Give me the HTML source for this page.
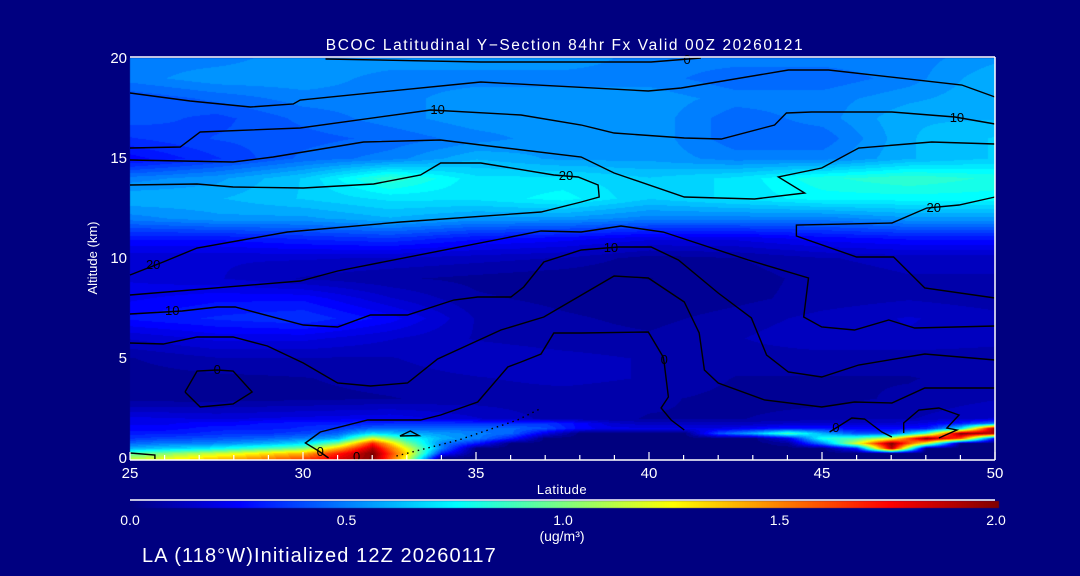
<!DOCTYPE html>
<html><head><meta charset="utf-8">
<style>
html,body{margin:0;padding:0;background:#000080;}
#wrap{position:relative;width:1080px;height:576px;overflow:hidden;background:#000080;font-family:"Liberation Sans",sans-serif;color:#fff;}
canvas{position:absolute;left:0;top:0;}
svg{position:absolute;left:0;top:0;}
</style></head>
<body>
<div id="wrap">
<canvas id="heat" width="1080" height="576"></canvas>
<svg id="ov" width="1080" height="576"></svg>
</div>
<script>
// ---- data ----
const latsUpper = [25,27.5,30,32.5,35,37.5,40,42.5,45,47.5,50];
const altsUpper = [2,3,4,5,6,7,8,9,10,11,12,13,14,15,16,17,18,19,20];
const valsUpper = [
[.2,.18,.2,.22,.15,.08,.06,.06,.08,.1,.15],
[.04,.04,.05,.06,.08,.08,.07,.05,.05,.07,.1],
[.04,.05,.06,.08,.1,.12,.1,.06,.06,.06,.08],
[.06,.1,.1,.1,.14,.12,.1,.08,.08,.08,.08],
[.15,.2,.2,.15,.1,.08,.07,.1,.14,.14,.12],
[.28,.32,.35,.25,.1,.07,.05,.08,.12,.15,.12],
[.22,.26,.26,.15,.07,.05,.03,.05,.08,.1,.08],
[.18,.15,.1,.07,.05,.03,.02,.04,.08,.1,.1],
[.15,.15,.15,.14,.12,.1,.04,.06,.1,.12,.12],
[.28,.28,.32,.35,.28,.25,.2,.2,.25,.28,.28],
[.5,.55,.55,.6,.55,.55,.5,.5,.5,.55,.55],
[.6,.6,.65,.7,.7,.75,.65,.7,.75,.75,.75],
[.5,.55,.65,.85,.7,.7,.65,.7,.8,.85,.8],
[.25,.35,.45,.5,.6,.55,.55,.5,.5,.6,.65],
[.35,.4,.42,.45,.5,.55,.55,.45,.45,.6,.65],
[.42,.38,.45,.5,.55,.55,.55,.45,.5,.6,.6],
[.4,.45,.5,.5,.55,.55,.55,.5,.5,.55,.6],
[.5,.55,.55,.5,.5,.5,.5,.45,.45,.5,.6],
[.5,.5,.55,.55,.55,.55,.5,.5,.5,.5,.55]
];
const latsLower = [25,26,27,28,29,30,31,32,33,34,35,36,37,38,39,40,41,42,43,44,45,46,47,48,49,50];
const altsLower = [0,0.25,0.5,0.75,1,1.25,1.5,1.75,2];
const valsLower = [
[1.1,1.2,1.3,1.4,1.5,1.6,1.8,2.0,1.2,0,0,0,0,0,0,0,0,0,0,0,0,0,0,0,0,0],
[.9,1.0,1.1,1.2,1.3,1.4,1.7,2.0,1.3,.3,0,0,0,0,0,0,0,0,0,0,0,0,0,0,0,0],
[.6,.65,.7,.8,.9,1.0,1.4,1.9,1.2,.5,0,0,0,0,0,0,0,0,0,0,0,.3,1.9,0,0,0],
[.45,.5,.5,.55,.6,.7,1.0,1.7,1.0,.5,.3,0,0,0,0,0,0,0,0,.05,.5,1.2,2.0,1.2,0,0],
[.35,.38,.4,.42,.45,.5,.6,1.2,.8,.6,.5,.3,0,0,0,0,0,0,0,.2,.8,.9,1.2,2.0,1.6,.2],
[.3,.3,.32,.35,.35,.38,.45,.7,.6,.55,.5,.45,.2,0,0,0,0,.4,.6,.9,.6,.4,.4,.9,2.0,1.9],
[.25,.25,.28,.3,.3,.32,.35,.45,.45,.45,.45,.45,.4,.25,.2,.2,.2,.2,.25,.3,.3,.25,.25,.3,.7,2.0],
[.22,.22,.25,.25,.28,.3,.3,.32,.35,.35,.35,.35,.35,.25,.15,.12,.12,.12,.12,.15,.15,.15,.15,.2,.3,.5],
[.2,.19,.18,.19,.2,.2,.21,.22,.2,.17,.15,.12,.09,.07,.06,.06,.06,.06,.07,.07,.08,.09,.1,.12,.13,.15]
];
// contour lines: [lat, alt] pairs
const contourTop = [[30.65,19.95],[35.14,19.8],[40.06,19.8],[41.5,20.0]];
const contourB = [[25,18.25],[26.74,17.85],[28.48,17.55],[29.72,17.7],[29.92,17.9],[35.14,18.8],[39.98,18.35],[40.93,18.5],[44.03,19.4],[45.19,19.4],[49.04,18.65],[50,18.05]];
const contourC = [[25,15.5],[26.45,15.55],[27.03,16.3],[29.92,16.5],[33.69,17.4],[36.3,17.15],[38.04,16.65],[38.99,16.25],[41.02,16.0],[42.09,15.95],[43.63,16.65],[43.97,17.25],[44.7,17.3],[47.02,17.3],[48.84,17.05],[50,16.7]];
const contourD = [[25,14.9],[27.98,14.8],[29.14,15.05],[31.75,15.8],[33.98,15.9],[35.14,15.65],[38.04,15.05],[38.99,14.25],[41.02,13.05],[43.05,12.95],[44.5,13.25],[43.74,14.05],[44.99,14.5],[46.06,15.5],[48.17,15.8],[50,15.7]];
const contour20a = [[25,9.15],[25.96,9.8],[26.94,10.5],[29.55,11.3],[32.82,11.8],[36.88,12.3],[38.04,12.8],[38.56,13.05],[38.53,13.65],[37.95,14.05],[37.25,14.15],[35.14,14.75],[33.98,14.75],[33.4,14.15],[32.04,13.7],[30.01,13.5],[27.98,13.55],[26.94,13.7],[25,13.65]];
const contour20b = [[50,13.05],[48.96,12.65],[48.03,12.5],[47.02,11.75],[44.26,11.65],[44.26,11.1],[46.0,10.05],[47.07,10.05],[47.97,8.5],[50,8.0]];
const contour10a = [[25,8.15],[29.92,8.85],[31.0,9.35],[36.88,11.35],[38.04,11.3],[39.19,11.6],[40.41,11.3],[42.87,9.9],[44.61,9.0],[44.47,7.05],[44.99,6.55],[45.94,6.4],[46.93,6.9],[47.68,6.5],[50,6.6]];
const contour10b = [[25,7.2],[26.51,7.35],[27.52,7.55],[28.04,7.55],[30.01,6.65],[31.0,6.55],[31.95,7.15],[33.02,7.15],[34.36,7.9],[35.05,8.05],[36.01,8.05],[36.38,8.55],[36.96,9.8],[38.04,10.4],[39.11,10.55],[40.06,10.55],[40.85,9.9],[42.0,8.25],[42.96,7.0],[43.4,5.15],[44.03,4.3],[44.99,4.05],[46.06,4.65],[47.97,5.2],[50,4.9]];
const contour10c = [[25,5.75],[25.96,5.7],[26.94,6.05],[27.98,6.05],[28.97,5.6],[30.01,4.75],[31.0,3.75],[31.95,3.6],[33.02,3.75],[33.89,4.95],[35.72,6.4],[36.96,7.05],[38.99,9.1],[39.98,9.0],[41.02,7.8],[41.45,6.25],[41.6,4.4],[42.0,3.75],[43.34,2.9],[44.99,2.55],[45.94,2.8],[47.02,2.75],[47.97,3.5],[50,3.5]];
const contour0b = [[30.74,0.0],[30.45,0.35],[30.07,0.75],[30.5,1.3],[31.87,1.9],[33.4,1.9],[33.98,2.15],[35.05,2.8],[35.92,4.55],[36.3,4.8],[36.88,5.2],[37.25,6.25],[38.04,6.25],[39.98,6.3],[40.41,5.05],[40.44,4.75],[40.56,3.05],[40.35,2.5],[40.64,1.9],[41.02,1.4]];
const contour0c = [[26.59,3.3],[26.94,4.35],[27.52,4.4],[27.98,4.35],[28.53,3.3],[27.98,2.7],[27.03,2.55],[26.59,3.3]];
const contour0d = [[45.22,1.3],[45.86,2.0],[46.23,1.95],[46.73,1.3],[47.02,1.05]];
const contour0e = [[47.36,1.25],[47.36,1.75],[47.8,2.4],[48.38,2.5],[48.96,2.15],[48.61,1.5],[48.9,1.4],[48.38,1.0]];
const contour0f = [[25,0.25],[25.72,0.15],[25.72,-0.05]];
const contourTri = [[32.8,1.1],[33.1,1.35],[33.35,1.12],[32.8,1.1]];
const contourDot = [[32.7,0.1],[34.5,0.9],[36.2,1.9],[36.9,2.5]];
const contourLabels = [["0",41.1,19.9],["10",33.89,17.4],["10",48.9,17.0],["20",37.6,14.1],["20",48.23,12.5],["20",25.67,9.65],["10",38.9,10.5],["10",26.22,7.35],["0",40.44,4.9],["0",27.52,4.4],["0",30.5,0.3],["0",31.55,0.05],["0",45.4,1.5]];
const xTicks = [25,30,35,40,45,50];
const yTicks = [0,5,10,15,20];
const cbTicks = ["0.0","0.5","1.0","1.5","2.0"];

// ---- geometry ----
const X0=130, X1=995, Y0=458, Y1=58;
const LAT0=25, LAT1=50, ALT0=0, ALT1=20, VMAX=2;
function xs(lat){return X0+(lat-LAT0)/(LAT1-LAT0)*(X1-X0);}
function ys(alt){return Y0-(alt-ALT0)/(ALT1-ALT0)*(Y0-Y1);}
function jet(t){
  t=Math.max(0,Math.min(1,t));
  function f(x){return Math.max(0,Math.min(1,x));}
  const r=f(Math.min(4*t-1.5,-4*t+4.5));
  const g=f(Math.min(4*t-0.5,-4*t+3.5));
  const b=f(Math.min(4*t+0.5,-4*t+2.5));
  return [r*255|0,g*255|0,b*255|0];
}
function idx(arr,v){
  if(v<=arr[0])return [0,0];
  for(let i=0;i<arr.length-1;i++){if(v<=arr[i+1])return [i,(v-arr[i])/(arr[i+1]-arr[i])];}
  return [arr.length-2,1];
}
function interp(lats,alts,vals,lat,alt){
  const [i,fx]=idx(lats,lat),[j,fy]=idx(alts,alt);
  const a=vals[j][i],b=vals[j][i+1],c=vals[j+1][i],d=vals[j+1][i+1];
  return (a*(1-fx)+b*fx)*(1-fy)+(c*(1-fx)+d*fx)*fy;
}
// heatmap
const cv=document.getElementById('heat'),ctx=cv.getContext('2d');
const W=X1-X0,H=460-Y1;
const img=ctx.createImageData(W,H);
for(let py=0;py<H;py++){
  const alt=Math.max(0,(Y0-(Y1+py))/(Y0-Y1)*(ALT1-ALT0));
  for(let px=0;px<W;px++){
    const lat=LAT0+px/W*(LAT1-LAT0);
    let v= alt<2 ? interp(latsLower,altsLower,valsLower,lat,alt) : interp(latsUpper,altsUpper,valsUpper,lat,alt);
    v=Math.round(v/VMAX*48)/48;
    const c=jet(v);
    const k=(py*W+px)*4;
    img.data[k]=c[0];img.data[k+1]=c[1];img.data[k+2]=c[2];img.data[k+3]=255;
  }
}
ctx.putImageData(img,X0,Y1);
// colorbar
for(let px=0;px<=868;px++){
  const c=jet(px/868);
  ctx.fillStyle='rgb('+c.join(',')+')';
  ctx.fillRect(130+px,501,1,7);
}

const NS='http://www.w3.org/2000/svg';
const svg=document.getElementById('ov');
function el(tag,attrs,parent){const e=document.createElementNS(NS,tag);for(const k in attrs)e.setAttribute(k,attrs[k]);(parent||svg).appendChild(e);return e;}
function txt(s,x,y,size,anchor,parent){const t=el('text',{x:x,y:y,'font-size':size,'text-anchor':anchor||'middle',fill:'#fff','font-family':'Liberation Sans, sans-serif'},parent);t.textContent=s;return t;}

// contours
const cg=el('g',{fill:'none',stroke:'#000','stroke-width':1.4});


const allContours=[contourTop,contourB,contourC,contourD,contour20a,contour20b,contour10a,contour10b,contour10c,contour0b,contour0c,contour0d,contour0e,contour0f,contourTri];
allContours.forEach(function(pts){
  const p=el('path',{d:'M'+pts.map(q=>xs(q[0]).toFixed(1)+','+ys(q[1]).toFixed(1)).join('L')},cg);
  
  
});
const dp=el('path',{d:'M'+contourDot.map(q=>xs(q[0]).toFixed(1)+','+ys(q[1]).toFixed(1)).join('L'),'stroke-dasharray':'1.5,4'},cg);


contourLabels.forEach(function(l){
  const t=el('text',{x:xs(l[1]),y:ys(l[2])+4,'font-size':13,'text-anchor':'middle',fill:'#000','font-family':'Liberation Sans, sans-serif'},cg);
  t.setAttribute('stroke','none');
  t.textContent=l[0];
  
  
});

// axes
const ag=el('g',{});


el('line',{x1:X0,y1:57,x2:X1,y2:57,stroke:'#fff','stroke-width':1.5},ag);
el('line',{x1:X0,y1:460,x2:X1,y2:460,stroke:'#fff','stroke-width':1.5},ag);
el('line',{x1:X1,y1:57,x2:X1,y2:460,stroke:'#fff','stroke-width':1.5},ag);
for(let lat=25;lat<=50;lat++){
  const maj=(lat%5===0);
  el('line',{x1:xs(lat),y1:460,x2:xs(lat),y2:maj?452:455,stroke:'#fff','stroke-width':1.2},ag);
}
xTicks.forEach(function(v){
  const t=txt(String(v),xs(v),478,15,'middle',ag);
  
  
});
yTicks.forEach(function(v){
  const t=txt(String(v),127,ys(v)+5,15,'end',ag);
  
  
});
const xt=txt('Latitude',562,494,13,'middle',ag);


xt.setAttribute('letter-spacing','0.5');
const yt=txt('Altitude (km)',0,0,13,'middle',ag);
yt.setAttribute('transform','translate(97,258) rotate(-90)');


const tt=txt('BCOC Latitudinal Y\u2212Section 84hr  Fx Valid 00Z 20260121',565,50,15.5,'middle');


tt.setAttribute('xml:space','preserve');
tt.setAttribute('letter-spacing','1.6');
// colorbar
el('line',{x1:130,y1:500,x2:995,y2:500,stroke:'#fff','stroke-width':1.5});
cbTicks.forEach(function(s,i){
  const t=txt(s,130+i*216.5,525,14,'middle');
  
  
});
const u=txt('(ug/m\u00b3)',562,541,14,'middle');


const ft=txt('LA (118\u00b0W)Initialized 12Z 20260117',142,562,20,'start');


ft.setAttribute('letter-spacing','1.1');
</script>
</body></html>
